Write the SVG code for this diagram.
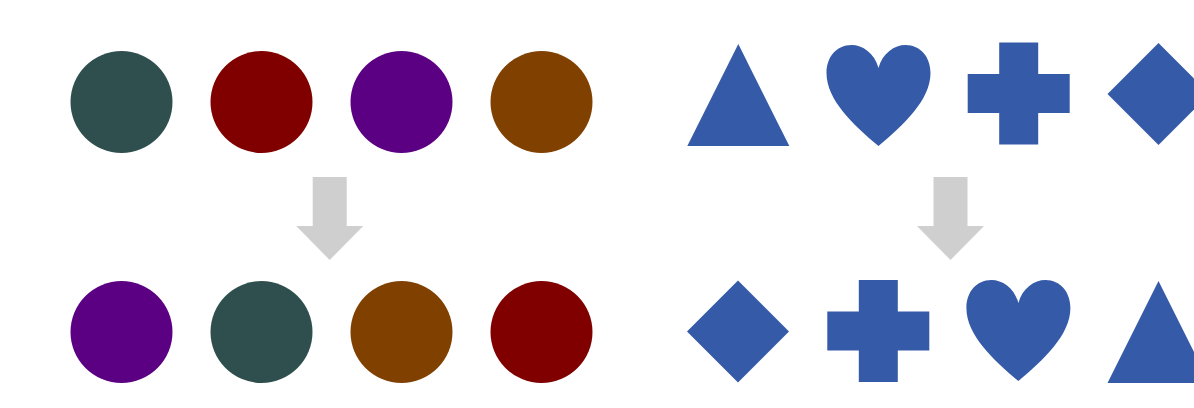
<svg xmlns="http://www.w3.org/2000/svg" width="1194" height="408" viewBox="0 0 1194 408">
<defs>
<style>
.blue{fill:#355AA8}
.arrow{fill:#D0CFD0}
</style>
<path id="heart" d="M0,23 C-4,8 -16,0 -27,0 C-42,0 -52,12 -52,28 C-52,55 -25,80 0,101 C25,80 52,55 52,28 C52,12 42,0 27,0 C16,0 4,8 0,23 Z"/>
<path id="cross" d="M-19.5,-51 H19.5 V-19.5 H51 V19.5 H19.5 V51 H-19.5 V19.5 H-51 V-19.5 H-19.5 Z"/>
<path id="diamond" d="M0,-51 L51,0 L0,51 L-51,0 Z"/>
<path id="triangle" d="M0,-51 L51,51 L-51,51 Z"/>
<path id="downarrow" d="M-17,-83 H17 V-34 H33.5 L0,0 L-33.5,-34 H-17 Z"/>
</defs>
<rect width="1194" height="408" fill="#FFFFFF"/>
<g id="circles-top">
<circle id="c-top-1" cx="121.5" cy="102" r="51" fill="#2F4F4F"/>
<circle id="c-top-2" cx="261.5" cy="102" r="51" fill="#800000"/>
<circle id="c-top-3" cx="401.5" cy="102" r="51" fill="#5B0082"/>
<circle id="c-top-4" cx="541.5" cy="102" r="51" fill="#804000"/>
</g>
<g id="circles-bottom">
<circle id="c-bot-1" cx="121.5" cy="332" r="51" fill="#5B0082"/>
<circle id="c-bot-2" cx="261.5" cy="332" r="51" fill="#2F4F4F"/>
<circle id="c-bot-3" cx="401.5" cy="332" r="51" fill="#804000"/>
<circle id="c-bot-4" cx="541.5" cy="332" r="51" fill="#800000"/>
</g>
<g id="shapes-top" class="blue">
<use id="s-top-triangle" href="#triangle" transform="translate(738.3,95)"/>
<use id="s-top-heart" href="#heart" transform="translate(878.5,45)"/>
<use id="s-top-cross" href="#cross" transform="translate(1018.7,93.5)"/>
<use id="s-top-diamond" href="#diamond" transform="translate(1158.5,94)"/>
</g>
<g id="shapes-bottom" class="blue">
<use id="s-bot-diamond" href="#diamond" transform="translate(738,331.5)"/>
<use id="s-bot-cross" href="#cross" transform="translate(878.3,331)"/>
<use id="s-bot-heart" href="#heart" transform="translate(1018.4,280)"/>
<use id="s-bot-triangle" href="#triangle" transform="translate(1158.5,332)"/>
</g>
<g id="connectors" class="arrow">
<use href="#downarrow" transform="translate(329.7,260)"/>
<use href="#downarrow" transform="translate(950.5,260)"/>
</g>
</svg>
